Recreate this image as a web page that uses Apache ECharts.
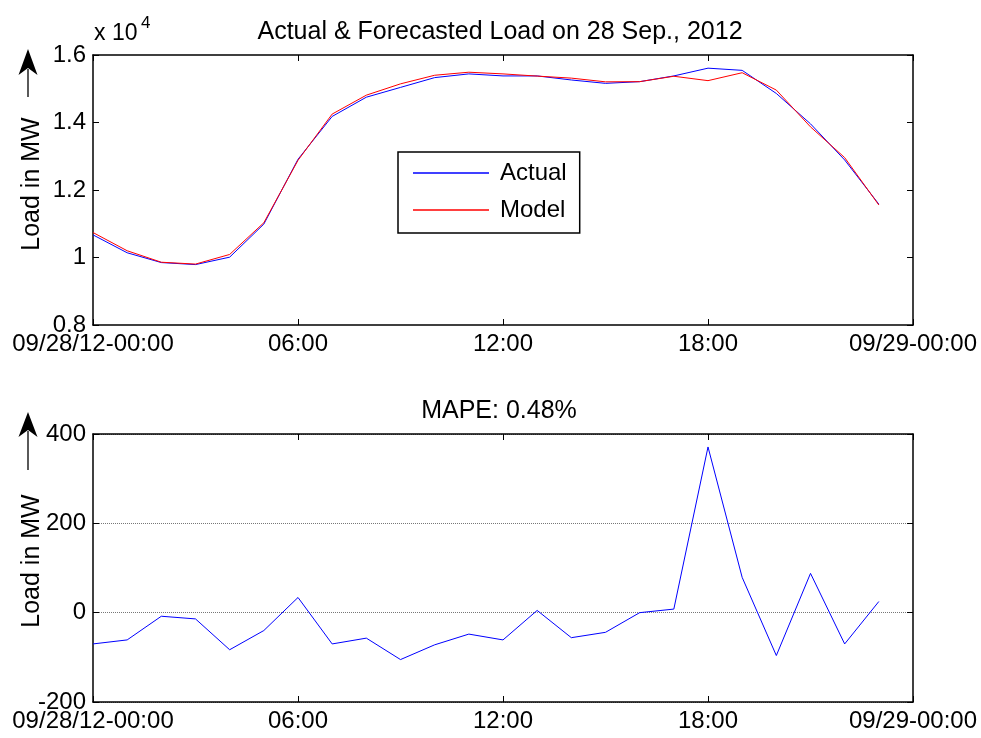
<!DOCTYPE html>
<html>
<head>
<meta charset="utf-8">
<script src="https://cdn.jsdelivr.net/npm/echarts@6.0.0/dist/echarts.min.js"></script>
<style>
  html, body { margin: 0; padding: 0; background: #fff; }
  #chart { width: 981px; height: 738px; }
</style>
</head>
<body>
<div id="chart"></div>
<script>
// hour of day, 28 Sep 2012
var hours = [0, 1, 2, 3, 4, 5, 6, 7, 8, 9, 10, 11, 12, 13, 14, 15, 16, 17, 18, 19, 20, 21, 22, 23];
// load in MW (axis is x 10^4)
var actualLoad = [10670, 10140, 9850, 9790, 10010, 10990, 12910, 14180, 14750, 15040, 15330, 15440,
                  15380, 15380, 15260, 15160, 15210, 15380, 15610, 15545, 14860, 13960, 12890, 11580];
var modelLoad = [10740, 10200, 9860, 9805, 10090, 11030, 12880, 14250, 14810, 15145, 15400, 15490,
                 15440, 15375, 15315, 15205, 15210, 15370, 15240, 15475, 14960, 13870, 12960, 11555];
// forecast error in MW
var errorMW = [-70, -61, -8, -14, -83, -40, 34, -70, -57, -105, -72, -48,
               -61, 5, -56, -44, 0, 8, 371, 79, -96, 88, -70, 25];

var xTicks = [0, 6, 12, 18, 24];
var xTickLabels = ['09/28/12-00:00', '06:00', '12:00', '18:00', '09/29-00:00'];

var FONT = 'Liberation Sans, Arial, sans-serif';
var FS = 24;      // tick labels, legend
var FS_BIG = 25;  // titles, axis names

function pairs(ys) {
  return hours.map(function (h, i) { return [h, ys[i]]; });
}

function xLabel(v) {
  var i = xTicks.indexOf(v);
  return i >= 0 ? xTickLabels[i] : '';
}

// one bottom/top pair of x axes per grid
function xAxes(grid) {
  return [{
    type: 'value', gridIndex: grid, position: 'bottom', min: 0, max: 24, interval: 6,
    axisLine: { onZero: false, lineStyle: { color: '#000', width: 1.5 } },
    axisTick: { inside: true, length: 6, lineStyle: { color: '#000' } },
    axisLabel: { color: '#000', fontSize: FS, fontFamily: FONT, margin: 7,
                 showMinLabel: true, showMaxLabel: true, formatter: xLabel },
    splitLine: { show: false }
  }, {
    type: 'value', gridIndex: grid, position: 'top', min: 0, max: 24, interval: 6,
    axisLine: { onZero: false, lineStyle: { color: '#000', width: 1.5 } },
    axisTick: { inside: true, length: 6, lineStyle: { color: '#000' } },
    axisLabel: { show: false },
    splitLine: { show: false }
  }];
}

function yAxes(grid, min, max, interval, fmt, grid_lines) {
  return [{
    type: 'value', gridIndex: grid, position: 'left', min: min, max: max, interval: interval,
    axisLine: { show: true, onZero: false, lineStyle: { color: '#000', width: 1.5 } },
    axisTick: { show: true, inside: true, length: 6, lineStyle: { color: '#000' } },
    axisLabel: { color: '#000', fontSize: FS, fontFamily: FONT, margin: 7, formatter: fmt },
    splitLine: { show: grid_lines, lineStyle: { color: '#777', type: 'dotted', width: 1 } }
  }, {
    type: 'value', gridIndex: grid, position: 'right', min: min, max: max, interval: interval,
    axisLine: { show: true, onZero: false, lineStyle: { color: '#000', width: 1.5 } },
    axisTick: { show: true, inside: true, length: 6, lineStyle: { color: '#000' } },
    axisLabel: { show: false },
    splitLine: { show: false }
  }];
}

// up-arrow next to the y axis name (matlab \uparrow)
function arrow(x, tipY, baseY, endY) {
  return [{
    type: 'line', silent: true,
    shape: { x1: x, y1: baseY - 6, x2: x, y2: endY },
    style: { stroke: '#000', lineWidth: 1.3 }
  }, {
    type: 'polygon', silent: true,
    shape: { points: [[x, tipY], [x - 9.5, baseY], [x, baseY - 7], [x + 9.5, baseY]] },
    style: { fill: '#000' }
  }];
}

var chart = echarts.init(document.getElementById('chart'));

var option = {
  animation: false,
  backgroundColor: '#fff',
  title: [{
    text: 'Actual & Forecasted Load on 28 Sep., 2012',
    left: 495, top: 15, textAlign: 'center',
    textStyle: { fontSize: FS_BIG, fontWeight: 'normal', color: '#000', fontFamily: FONT }
  }, {
    text: 'MAPE: 0.48%',
    left: 494, top: 394, textAlign: 'center',
    textStyle: { fontSize: FS_BIG, fontWeight: 'normal', color: '#000', fontFamily: FONT }
  }],
  legend: {
    data: ['Actual', 'Model'],
    orient: 'vertical',
    left: 398, top: 152,
    padding: [9, 13, 11, 15],
    itemGap: 13,
    itemWidth: 76, itemHeight: 1.5,
    icon: 'rect',
    borderColor: '#000', borderWidth: 1.5,
    backgroundColor: '#fff',
    textStyle: { fontSize: FS, color: '#000', fontFamily: FONT, padding: [0, 0, 0, 6] }
  },
  grid: [
    { left: 93, right: 68, top: 55, height: 270 },
    { left: 93, right: 68, top: 434, height: 268 }
  ],
  xAxis: xAxes(0).concat(xAxes(1)),
  yAxis: yAxes(0, 8000, 16000, 2000, function (v) { return String(v / 10000); }, false)
    .concat(yAxes(1, -200, 400, 200, null, true)),
  series: [{
    name: 'Actual', type: 'line', xAxisIndex: 0, yAxisIndex: 0,
    data: pairs(actualLoad), symbol: 'none',
    lineStyle: { color: '#0000ff', width: 1 }, itemStyle: { color: '#0000ff' }
  }, {
    name: 'Model', type: 'line', xAxisIndex: 0, yAxisIndex: 0,
    data: pairs(modelLoad), symbol: 'none',
    lineStyle: { color: '#ff0000', width: 1 }, itemStyle: { color: '#ff0000' }
  }, {
    name: 'Error', type: 'line', xAxisIndex: 2, yAxisIndex: 2,
    data: pairs(errorMW), symbol: 'none',
    lineStyle: { color: '#0000ff', width: 1 }, itemStyle: { color: '#0000ff' }
  }],
  graphic: [{
    type: 'text', silent: true, x: 94, y: 34,
    style: { text: 'x 10', fontSize: 23, fontFamily: FONT, fill: '#000', verticalAlign: 'middle' }
  }, {
    type: 'text', silent: true, x: 141, y: 23,
    style: { text: '4', fontSize: 17, fontFamily: FONT, fill: '#000', verticalAlign: 'middle' }
  }, {
    type: 'text', silent: true, x: 32, y: 184, rotation: Math.PI / 2,
    style: { text: 'Load in MW', fontSize: FS_BIG, fontFamily: FONT, fill: '#000',
             align: 'center', verticalAlign: 'middle' }
  }, {
    type: 'text', silent: true, x: 32, y: 561, rotation: Math.PI / 2,
    style: { text: 'Load in MW', fontSize: FS_BIG, fontFamily: FONT, fill: '#000',
             align: 'center', verticalAlign: 'middle' }
  }].concat(arrow(28, 49, 75, 97)).concat(arrow(28, 412, 437, 470))
};

chart.setOption(option);
</script>
</body>
</html>
